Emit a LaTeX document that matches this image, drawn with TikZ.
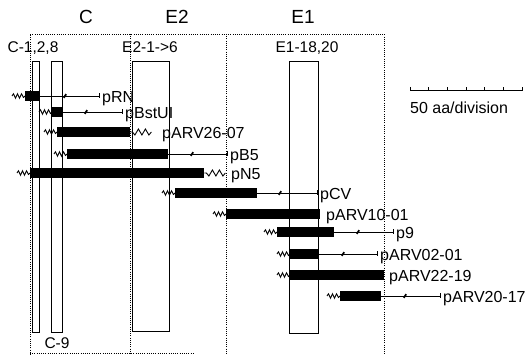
\documentclass[tikz,border=0pt]{standalone}
\usepackage{fontspec}
\setmainfont{Liberation Sans}
\usetikzlibrary{arrows.meta,
                positioning}

\begin{document}
\begin{tikzpicture}[x=1pt, y=-1pt,
region/.style = {line width=0.8pt, dash pattern=on 1pt off 1.2pt},
exon/.style   = {draw, line width=1.1pt, inner sep=0pt, anchor=north west},
bar/.style    = {fill, inner sep=0pt, minimum height=10pt, anchor=west},
clone/.style  = {line width=0.9pt, -{Bar[width=5pt]}},
lbl/.style    = {font=\fontsize{16}{16}\selectfont, inner sep=0pt,
                 anchor=west, text height=11.5pt, text depth=0pt},
head/.style   = {font=\fontsize{19}{19}\selectfont, inner sep=0pt},
exlbl/.style  = {font=\fontsize{15.5}{15.5}\selectfont, inner sep=0pt,
                 text height=11pt, text depth=0pt},
wig/.pic      = {\draw[line width=0.9pt] (-13,0) -- (-11.5,-2.2) -- (-9.5,2.2)
                    -- (-7.5,-2.2) -- (-5.5,2.2) -- (-3.5,-2.2) -- (-1.5,1.5) -- (0,0);},
wigr/.pic     = {\draw[line width=0.9pt] (0,0) -- (2,0) -- (4.5,3) -- (8,-3)
                    -- (11.5,3) -- (15,-3) -- (18.5,3) -- (21,0);},
brk/.pic      = {\draw[line width=1.8pt] (-1.2,1.8) -- (1.2,-1.8);}
                    ]
\useasboundingbox (0,0) rectangle (531,355);
% regions
\draw[region] (30,355) -- (30,34) -- (384,34) -- (384,355);
\draw[region] (130,34) -- (130,355);
\draw[region] (226,34) -- (226,355);
\draw[region] (30,353) -- (193,353);
\node[head] (hc)  at (86,16.5)  {C};
\node[head] (he2) at (177,16.5) {E2};
\node[head] (he1) at (303,16.5) {E1};
% exons
\node[exon, minimum width=7pt,  minimum height=271pt] (c128) at (32,61)    {};
\node[exon, minimum width=11pt, minimum height=271pt] (c9)   at (51,61)    {};
\node[exon, minimum width=37pt, minimum height=270pt] (e2)   at (131.5,61) {};
\node[exon, minimum width=29pt, minimum height=272pt] (e1)   at (289,61)   {};
\node[exlbl] (c128-lbl) at (33,47)  {C-1,2,8};
\node[exlbl] (c9-lbl)   at (57,343) {C-9};
\node[exlbl] (e2-lbl)   at (150,47) {E2-1->6};
\node[exlbl] (e1-lbl)   at (307,47) {E1-18,20};
% scale
\draw[line width=0.9pt] (410,87) -- (410,90) -- (522,90) -- (522,87);
\foreach \i in {1,...,5}
    \draw[line width=0.9pt] (410+\i*18.67,90) -- ++(0,-3);
\node[lbl] (scl) at (410,107.5) {50 aa/division};
% clones with a line
\foreach \nm/\y/\xa/\xb/\xe/\xk/\txt in {rn/96/25/39/100/65/pRN,
        bst/112/52/62/123/86/pBstUI, b5/154/67/168/228/192/pB5,
        cv/193/175/257/318/280/pCV, p9/232/277/334/394/358/p9,
        a0201/254/290/318/378/343/pARV02-01,
        a2017/296/340/381/441/405/pARV20-17}
{
    \node[bar, minimum width=\xb pt-\xa pt] (\nm) at (\xa,\y) {};
    \pic at (\nm.west) {wig};
    \coordinate (\nm-end) at (\xe,\y);
    \draw[clone] (\nm.east) -- (\nm-end);
    \pic at (\xk,\y) {brk};
    \node[lbl, right=2pt of \nm-end, yshift=-1pt] (\nm-lbl) {\txt};
}
% clones with no line
\foreach \nm/\y/\xa/\xb/\xl/\txt in {a2607/132/57/130/162/pARV26-07,
        n5/173/30/204/231/pN5, a1001/214/226/320/326/pARV10-01,
        a2219/275/290/384/389/pARV22-19}
{
    \node[bar, minimum width=\xb pt-\xa pt] (\nm) at (\xa,\y) {};
    \pic at (\nm.west) {wig};
    \node[lbl, yshift=-1pt] (\nm-lbl) at (\xl,\y) {\txt};
}
\pic at (a2607.east) {wigr};
\pic at (n5.east) {wigr};
\end{tikzpicture}
\end{document}
